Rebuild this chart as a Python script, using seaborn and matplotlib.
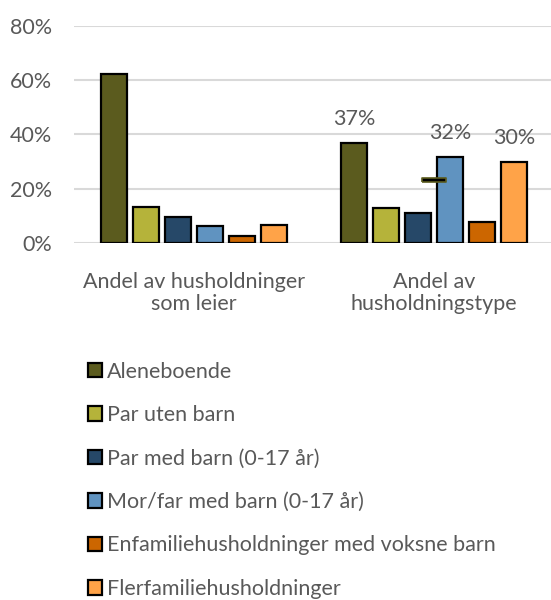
import pandas as pd
import matplotlib.pyplot as plt
import seaborn as sns

# --- Data ---
CATEGORIES = ["Andel av husholdninger\nsom leier", "Andel av\nhusholdningstype"]
SERIES = [
    "Aleneboende",
    "Par uten barn",
    "Par med barn (0-17 år)",
    "Mor/far med barn (0-17 år)",
    "Enfamiliehusholdninger med voksne barn",
    "Flerfamiliehusholdninger",
]
LEIER = [62.1, 13.3, 9.6, 6.3, 2.6, 6.5]
HUSHOLDNINGSTYPE = [36.9, 12.8, 11.0, 31.6, 7.6, 29.9]
LABELLED = ["Aleneboende", "Mor/far med barn (0-17 år)", "Flerfamiliehusholdninger"]
MARKER_VALUE = [23.1]  # stray marker in second group

COLORS = ["#5B5B1E", "#B5B33A", "#264868", "#6093C0", "#CC6600", "#FFA348"]
TEXT_COLOR = "#595959"
GRID_COLOR = "#D9D9D9"
FS = 15.5

# --- Build long table ---
rows = []
for s, v in zip(SERIES, LEIER):
    rows.append({"kategori": CATEGORIES[0], "serie": s, "verdi": v})
for s, v in zip(SERIES, HUSHOLDNINGSTYPE):
    rows.append({"kategori": CATEGORIES[1], "serie": s, "verdi": v})
df = pd.DataFrame(rows)

sns.set_style("white")
plt.rcParams["font.family"] = ["Lato", "DejaVu Sans"]

fig = plt.figure(figsize=(5.51, 6.0), dpi=100)
W, H = 551, 600
ax = fig.add_axes([74 / W, (H - 242.7) / H, (554 - 74) / W, (242.7 - 26) / H])

sns.barplot(data=df, x="kategori", y="verdi", hue="serie", order=CATEGORIES,
            hue_order=SERIES, palette=COLORS, edgecolor="black", linewidth=1.6,
            width=0.8, gap=0.19, saturation=1, ax=ax)

# stray dash marker at second group centre
dash = [(-1, -0.2), (1, -0.2), (1, 0.2), (-1, 0.2), (-1, -0.2)]
ax.plot([1], MARKER_VALUE, linestyle="none", marker=dash, markersize=17.5,
        markerfacecolor="black", markeredgecolor="#5B5B1E", markeredgewidth=1.2)

# data labels for selected bars in second group
for s, cont in zip(SERIES, ax.containers):
    labels = ["", f"{cont.datavalues[1]:.0f}%" if s in LABELLED else ""]
    ax.bar_label(cont, labels=labels, padding=10, fontsize=FS, color=TEXT_COLOR)

ax.set_ylim(0, 80)
ax.set_xlim(-0.5, 1.5)
ax.set_yticks([0, 20, 40, 60, 80])
ax.set_yticklabels([f"{t}%" for t in [0, 20, 40, 60, 80]])
ax.yaxis.grid(True, color=GRID_COLOR, linewidth=1.5)
ax.set_axisbelow(True)
for sp in ax.spines.values():
    sp.set_visible(False)
ax.tick_params(axis="y", length=0, pad=16, labelsize=FS, labelcolor=TEXT_COLOR)
ax.tick_params(axis="x", length=0, pad=21, labelsize=FS, labelcolor=TEXT_COLOR)
for t in ax.get_xticklabels():
    t.set_linespacing(1.12)
ax.set_xlabel("")
ax.set_ylabel("")

# legend below the chart
handles, labels = ax.get_legend_handles_labels()
ax.get_legend().remove()
fig.legend(handles, labels, loc="upper left", bbox_to_anchor=(79 / W, 1 - 353 / H),
           frameon=False, fontsize=FS, labelcolor=TEXT_COLOR, handlelength=0.65,
           handleheight=0.65, handletextpad=0.25, labelspacing=1.09, borderaxespad=0)

fig.savefig("out.png", dpi=100)
